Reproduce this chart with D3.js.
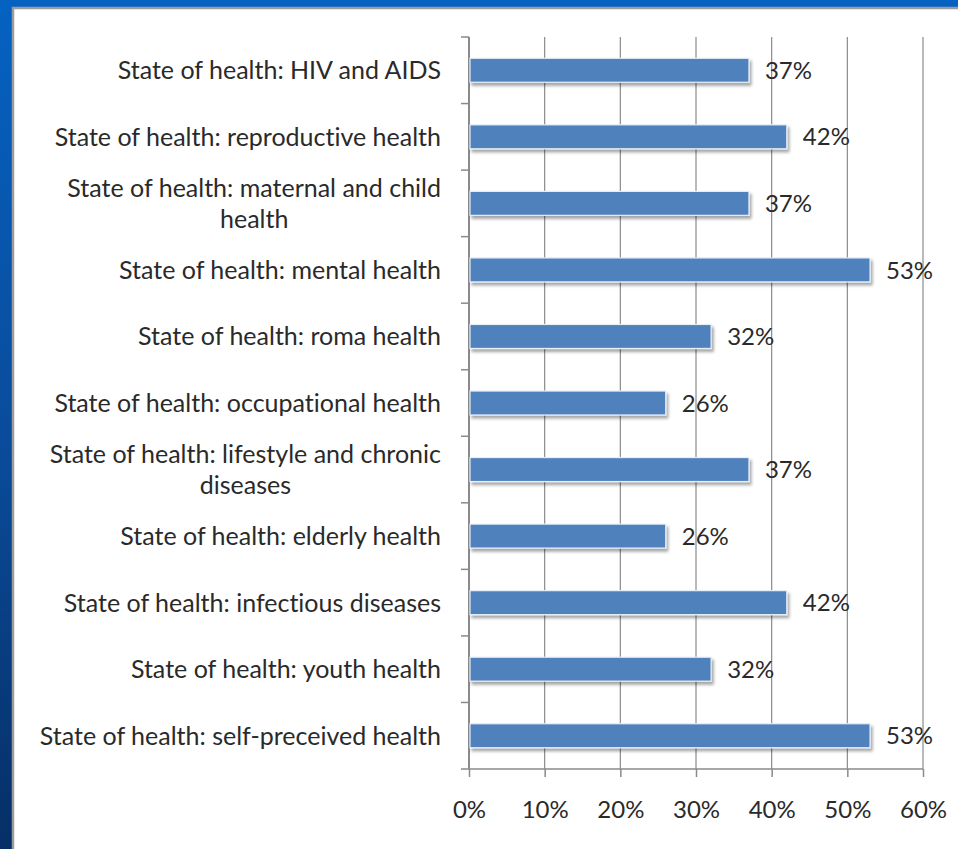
<!DOCTYPE html>
<html>
<head>
<meta charset="utf-8">
<script src="https://cdn.jsdelivr.net/npm/d3@7"></script>
<style>
  html, body { margin: 0; padding: 0; background: #0a3d80; }
  svg { display: block; }
  text { font-family: Lato, "Open Sans", sans-serif; fill: #2a2a2a; font-variant-ligatures: none; }
</style>
</head>
<body>
<svg id="chart" width="958" height="849"></svg>
<script>
// Categories, top to bottom
const categories = [
  "State of health: HIV and AIDS",
  "State of health: reproductive health",
  "State of health: maternal and child health",
  "State of health: mental health",
  "State of health: roma health",
  "State of health: occupational health",
  "State of health: lifestyle and chronic diseases",
  "State of health: elderly health",
  "State of health: infectious diseases",
  "State of health: youth health",
  "State of health: self-preceived health"
];
// Share of responses, in percent
const values = [37, 42, 37, 53, 32, 26, 37, 26, 42, 32, 53];
// Axis ticks, in percent
const tickValues = [0, 10, 20, 30, 40, 50, 60];

const W = 958, H = 849;
const svg = d3.select("#chart");
const defs = svg.append("defs");

// slide background
const bg = defs.append("linearGradient").attr("id", "bg")
  .attr("x1", 0).attr("y1", 0).attr("x2", 0).attr("y2", 1);
bg.append("stop").attr("offset", "0%").attr("stop-color", "#0562c2");
bg.append("stop").attr("offset", "55%").attr("stop-color", "#0a4a98");
bg.append("stop").attr("offset", "100%").attr("stop-color", "#062f66");
svg.append("rect").attr("width", W).attr("height", H).attr("fill", "url(#bg)");

// white chart panel
svg.append("rect")
  .attr("x", 13).attr("y", 8).attr("width", W).attr("height", H)
  .attr("fill", "#fff").attr("stroke", "#9c9c9c").attr("stroke-width", 2.5);

// bar drop shadow
const f = defs.append("filter").attr("id", "shadow")
  .attr("x", "-5%").attr("y", "-30%").attr("width", "115%").attr("height", "170%");
f.append("feDropShadow").attr("dx", 2).attr("dy", 3).attr("stdDeviation", 1.6)
  .attr("flood-color", "#000").attr("flood-opacity", 0.35);

const x0 = 469, x1 = 923, y0 = 37, y1 = 769;
const x = d3.scaleLinear().domain([0, 60]).range([x0, x1]);
const y = d3.scaleBand().domain(categories).range([y0, y1]).paddingInner(0.64).paddingOuter(0.32);
const step = (y1 - y0) / categories.length;

const grid = "#8a8a8a";
const g = svg.append("g");

// vertical gridlines
g.selectAll("line.grid").data(tickValues.slice(1)).join("line")
  .attr("class", "grid")
  .attr("x1", d => x(d)).attr("x2", d => x(d))
  .attr("y1", y0).attr("y2", y1)
  .attr("stroke", grid).attr("stroke-width", 1.2);

// bottom axis
const xAxis = d3.axisBottom(x).tickValues(tickValues).tickSize(8).tickPadding(24)
  .tickFormat(d => d + "%");
const gx = g.append("g").attr("transform", `translate(0,${y1})`).call(xAxis);
gx.select(".domain").remove();
gx.selectAll(".tick line").attr("stroke", grid).attr("stroke-width", 1.5);
gx.selectAll(".tick text").attr("font-size", 24).attr("fill", "#2a2a2a")
  .style("font-family", "Lato, 'Open Sans', sans-serif");
g.append("line").attr("x1", x0 - 8).attr("x2", x1).attr("y1", y1).attr("y2", y1)
  .attr("stroke", grid).attr("stroke-width", 1.5);

// category axis line and boundary ticks
g.append("line").attr("x1", x0).attr("x2", x0).attr("y1", y0).attr("y2", y1)
  .attr("stroke", grid).attr("stroke-width", 2);
g.selectAll("line.ctick").data(d3.range(categories.length)).join("line")
  .attr("class", "ctick")
  .attr("x1", x0 - 8).attr("x2", x0)
  .attr("y1", i => y0 + i * step).attr("y2", i => y0 + i * step)
  .attr("stroke", grid).attr("stroke-width", 1.5);

// bars
g.selectAll("rect.bar").data(categories).join("rect")
  .attr("class", "bar")
  .attr("x", x(0) + 1)
  .attr("y", d => y(d))
  .attr("width", (d, i) => x(values[i]) - x(0) - 1)
  .attr("height", y.bandwidth())
  .attr("fill", "#4f81bd")
  .attr("stroke", "#e6eef8").attr("stroke-width", 1.2)
  .attr("filter", "url(#shadow)");

// value labels
g.selectAll("text.val").data(categories).join("text")
  .attr("class", "val")
  .attr("x", (d, i) => x(values[i]) + 16)
  .attr("y", d => y(d) + y.bandwidth() / 2)
  .attr("dy", "0.36em")
  .attr("font-size", 24)
  .text((d, i) => values[i] + "%");

// category labels, wrapped and centred within a right-aligned block
const labelRight = 441, maxWidth = 420, lineH = 31, fs = 25;
const measure = svg.append("text").attr("font-size", fs).attr("visibility", "hidden");
function width(s) { measure.text(s); return measure.node().getComputedTextLength(); }
function wrap(s) {
  const words = s.split(" "), lines = [];
  let cur = "";
  for (const w of words) {
    const t = cur ? cur + " " + w : w;
    if (cur && width(t) > maxWidth) { lines.push(cur); cur = w; } else cur = t;
  }
  lines.push(cur);
  return lines;
}
categories.forEach(c => {
  const lines = wrap(c);
  const bw = d3.max(lines, width);
  const cx = labelRight - bw / 2;
  const cy = y(c) + y.bandwidth() / 2;
  const t = g.append("text").attr("font-size", fs).attr("text-anchor", "middle");
  lines.forEach((ln, k) => {
    t.append("tspan").attr("x", cx)
      .attr("y", cy + (k - (lines.length - 1) / 2) * lineH)
      .attr("dy", "0.36em").text(ln);
  });
});
measure.remove();
</script>
</body>
</html>
